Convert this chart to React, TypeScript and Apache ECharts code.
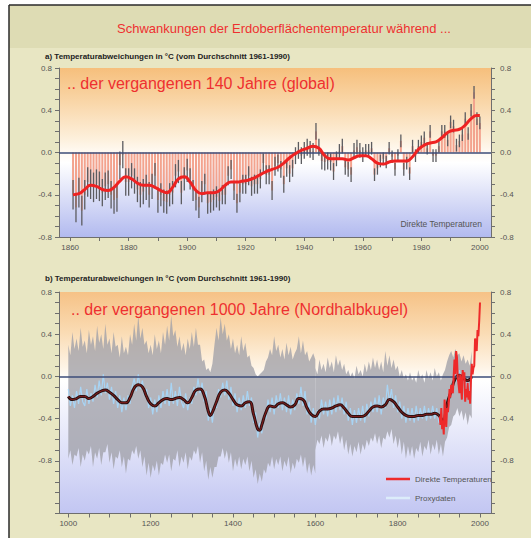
import React, { useEffect, useRef } from 'react';
import * as echarts from 'echarts';

const FONT = "'Liberation Sans', Arial, sans-serif";

const mainTitle = 'Schwankungen der Erdoberflächentemperatur während ...';
const panelATitle = 'a) Temperaturabweichungen in °C (vom Durchschnitt 1961-1990)';
const panelBTitle = 'b) Temperaturabweichungen in °C (vom Durchschnitt 1961-1990)';
const panelAHeadline = '.. der vergangenen 140 Jahre (global)';
const panelBHeadline = '.. der vergangenen 1000 Jahre (Nordhalbkugel)';
const panelANote = 'Direkte Temperaturen';
const legendNames = ['Direkte Temperaturen', 'Proxydaten'];

// Panel a: annual global anomalies 1861-2000
const globalStartYear = 1861;
const globalAnnual = [
  -0.40, -0.52, -0.38, -0.55, -0.40, -0.28, -0.30, -0.33, -0.30, -0.32,
  -0.38, -0.32, -0.30, -0.40, -0.45, -0.43, -0.12, -0.02, -0.28, -0.28,
  -0.22, -0.27, -0.35, -0.40, -0.37, -0.33, -0.40, -0.32, -0.22, -0.45,
  -0.40, -0.46, -0.47, -0.40, -0.38, -0.22, -0.18, -0.38, -0.25, -0.17,
  -0.25, -0.36, -0.45, -0.52, -0.37, -0.30, -0.48, -0.47, -0.45, -0.42,
  -0.46, -0.40, -0.40, -0.22, -0.16, -0.36, -0.48, -0.38, -0.30, -0.30,
  -0.22, -0.32, -0.30, -0.30, -0.25, -0.10, -0.21, -0.21, -0.36, -0.13,
  -0.10, -0.16, -0.30, -0.15, -0.20, -0.15, -0.03, 0.02, -0.03, 0.02,
  0.05, 0.03, 0.01, 0.20, 0.05, -0.08, -0.09, -0.08, -0.09, -0.18,
  -0.06, 0.01, 0.06, -0.14, -0.16, -0.21, 0.02, 0.05, 0.02, -0.02,
  0.02, 0.02, 0.04, -0.21, -0.15, -0.08, -0.06, -0.09, 0.04, -0.04,
  -0.16, -0.03, 0.11, -0.16, -0.10, -0.20, 0.06, -0.03, 0.06, 0.10,
  0.14, 0.04, 0.20, -0.03, -0.03, 0.06, 0.20, 0.20, 0.12, 0.29,
  0.25, 0.07, 0.11, 0.17, 0.32, 0.18, 0.40, 0.57, 0.32, 0.28,
];
// half-width of the grey uncertainty bar, one value per decade (1861-70, 1871-80, ...)
const globalErrorByDecade = [0.14, 0.13, 0.12, 0.11, 0.10, 0.09, 0.09, 0.08, 0.08, 0.07, 0.06, 0.06, 0.06, 0.06];

const globalSmoothYears = [
  1861, 1863, 1865, 1867, 1869, 1871, 1873, 1875, 1877, 1879, 1881, 1883, 1885, 1887, 1889,
  1891, 1893, 1895, 1897, 1899, 1901, 1903, 1905, 1907, 1909, 1911, 1913, 1915, 1917, 1919,
  1921, 1923, 1925, 1927, 1929, 1931, 1933, 1935, 1937, 1939, 1941, 1943, 1945, 1947, 1949,
  1951, 1953, 1955, 1957, 1959, 1961, 1963, 1965, 1967, 1969, 1971, 1973, 1975, 1977, 1979,
  1981, 1983, 1985, 1987, 1989, 1991, 1993, 1995, 1997, 1999, 2000,
];
const globalSmooth = [
  -0.40, -0.39, -0.35, -0.31, -0.32, -0.35, -0.36, -0.33, -0.27, -0.23, -0.25, -0.29, -0.31, -0.31, -0.33,
  -0.36, -0.38, -0.33, -0.25, -0.23, -0.28, -0.36, -0.39, -0.38, -0.38, -0.36, -0.31, -0.28, -0.28, -0.27,
  -0.26, -0.24, -0.21, -0.18, -0.16, -0.14, -0.10, -0.05, -0.01, 0.02, 0.04, 0.06, 0.04, -0.03, -0.06,
  -0.06, -0.06, -0.07, -0.05, -0.03, -0.03, -0.06, -0.10, -0.11, -0.09, -0.08, -0.08, -0.08, -0.04, 0.03,
  0.07, 0.09, 0.10, 0.14, 0.19, 0.21, 0.22, 0.26, 0.32, 0.35, 0.35,
];

// Panel b: proxy reconstruction, 5-year steps 1000-1980
const proxyStartYear = 1000;
const proxyStep = 5;
const proxyValues = [
  -0.12, -0.28, -0.18, -0.30, -0.14, -0.26, -0.10, -0.24, -0.28, -0.12,
  -0.26, -0.16, -0.24, -0.08, -0.20, -0.04, -0.18, 0.02, -0.16, -0.06,
  -0.22, -0.10, -0.26, -0.14, -0.30, -0.18, -0.34, -0.20, -0.32, -0.18,
  -0.26, -0.10, -0.02, -0.14, 0.02, -0.12, -0.04, -0.18, -0.12, -0.30,
  -0.20, -0.36, -0.22, -0.34, -0.18, -0.30, -0.14, -0.26, -0.12, -0.28,
  -0.06, -0.26, -0.14, -0.28, -0.10, -0.24, -0.30, -0.16, -0.32, -0.20,
  -0.26, -0.10, -0.18, -0.02, -0.16, -0.06, -0.24, -0.14, -0.42, -0.30,
  -0.44, -0.26, -0.30, -0.12, -0.20, -0.06, -0.18, -0.04, -0.22, -0.10,
  -0.28, -0.16, -0.34, -0.20, -0.32, -0.18, -0.30, -0.14, -0.28, -0.20,
  -0.44, -0.34, -0.58, -0.44, -0.54, -0.36, -0.40, -0.22, -0.34, -0.20,
  -0.36, -0.18, -0.30, -0.16, -0.32, -0.20, -0.34, -0.18, -0.36, -0.22,
  -0.32, -0.16, -0.26, -0.10, -0.28, -0.14, -0.36, -0.24, -0.44, -0.30,
  -0.46, -0.32, -0.40, -0.22, -0.36, -0.24, -0.38, -0.22, -0.36, -0.20,
  -0.34, -0.18, -0.32, -0.20, -0.36, -0.24, -0.42, -0.30, -0.46, -0.32,
  -0.44, -0.30, -0.42, -0.28, -0.44, -0.26, -0.38, -0.24, -0.34, -0.20,
  -0.34, -0.18, -0.36, -0.20, -0.30, -0.08, -0.24, -0.12, -0.30, -0.18,
  -0.34, -0.24, -0.40, -0.28, -0.44, -0.30, -0.42, -0.30, -0.44, -0.28,
  -0.42, -0.30, -0.40, -0.28, -0.42, -0.30, -0.40, -0.28, -0.40, -0.30,
  -0.44, -0.34, -0.50, -0.34, -0.30, -0.18, -0.18, -0.04, 0.04, -0.06,
  0.06, -0.08, 0.02, -0.12, -0.02, -0.14, 0.02,
];

// Panel b: 40-year smoothed reconstruction
const smoothYears = [
  1000, 1010, 1020, 1030, 1040, 1050, 1060, 1070, 1080, 1090, 1100, 1110, 1120, 1130, 1140, 1150,
  1160, 1170, 1180, 1190, 1200, 1210, 1220, 1230, 1240, 1250, 1260, 1270, 1280, 1290, 1300, 1310,
  1320, 1330, 1340, 1345, 1350, 1360, 1370, 1380, 1390, 1400, 1410, 1420, 1430, 1440, 1450, 1460,
  1465, 1470, 1480, 1490, 1500, 1510, 1520, 1530, 1540, 1550, 1560, 1570, 1580, 1590, 1600, 1610,
  1620, 1630, 1640, 1650, 1660, 1670, 1680, 1690, 1700, 1710, 1720, 1730, 1740, 1750, 1760, 1770,
  1780, 1790, 1800, 1810, 1820, 1830, 1840, 1850, 1860, 1870, 1880, 1890, 1900, 1910, 1920, 1930,
  1940, 1950, 1960, 1970, 1980,
];
const smoothValues = [
  -0.19, -0.22, -0.21, -0.19, -0.19, -0.21, -0.19, -0.16, -0.14, -0.13, -0.15, -0.18, -0.22, -0.25, -0.25, -0.20,
  -0.11, -0.08, -0.10, -0.19, -0.26, -0.28, -0.25, -0.22, -0.21, -0.22, -0.21, -0.20, -0.22, -0.25, -0.20, -0.13,
  -0.12, -0.18, -0.33, -0.37, -0.34, -0.24, -0.15, -0.13, -0.16, -0.22, -0.27, -0.28, -0.25, -0.24, -0.36, -0.50,
  -0.51, -0.46, -0.34, -0.28, -0.29, -0.26, -0.25, -0.27, -0.29, -0.27, -0.21, -0.22, -0.30, -0.36, -0.38, -0.33,
  -0.31, -0.31, -0.30, -0.28, -0.27, -0.30, -0.35, -0.38, -0.38, -0.38, -0.37, -0.33, -0.29, -0.28, -0.29, -0.27,
  -0.22, -0.24, -0.29, -0.34, -0.37, -0.38, -0.38, -0.37, -0.37, -0.36, -0.36, -0.35, -0.37, -0.42, -0.26, -0.14,
  -0.02, 0.01, -0.02, -0.04, 0.00,
];

// Panel b: grey uncertainty envelope, 5-year steps; early part 1000-1600, late part 1600-1980
const bandStep = 5;
const bandEarlyStart = 1000;
const bandEarlyUpper = [
  0.30, 0.20, 0.42, 0.26, 0.36, 0.24, 0.46, 0.28, 0.34, 0.22, 0.44, 0.30, 0.38, 0.24, 0.48, 0.32, 0.40, 0.26, 0.50, 0.30,
  0.36, 0.22, 0.42, 0.28, 0.30, 0.18, 0.38, 0.22, 0.28, 0.20, 0.40, 0.30, 0.50, 0.34, 0.58, 0.36, 0.46, 0.30, 0.34, 0.22,
  0.30, 0.20, 0.40, 0.26, 0.34, 0.22, 0.42, 0.30, 0.48, 0.34, 0.58, 0.38, 0.44, 0.28, 0.38, 0.24, 0.32, 0.20, 0.36, 0.26,
  0.42, 0.28, 0.46, 0.30, 0.30, 0.14, 0.16, 0.06, 0.08, 0.04, 0.12, 0.30, 0.46, 0.34, 0.56, 0.40, 0.50, 0.34, 0.40, 0.26,
  0.36, 0.22, 0.30, 0.20, 0.38, 0.24, 0.32, 0.18, 0.20, 0.10, 0.08, 0.02, 0.00, 0.02, 0.04, 0.06, 0.14, 0.18, 0.26, 0.20,
  0.38, 0.24, 0.30, 0.18, 0.26, 0.16, 0.32, 0.20, 0.28, 0.16, 0.22, 0.26, 0.38, 0.22, 0.34, 0.20, 0.24, 0.14, 0.18, 0.22,
  0.16,
];
const bandEarlyLower = [
  -0.78, -0.70, -0.84, -0.74, -0.76, -0.68, -0.86, -0.74, -0.80, -0.70, -0.74, -0.66, -0.86, -0.72, -0.78, -0.68, -0.84, -0.72, -0.72, -0.64,
  -0.82, -0.72, -0.88, -0.76, -0.78, -0.70, -0.86, -0.76, -0.92, -0.78, -0.80, -0.70, -0.74, -0.66, -0.78, -0.70, -0.86, -0.76, -0.94, -0.82,
  -0.96, -0.84, -0.90, -0.80, -0.94, -0.82, -0.84, -0.74, -0.82, -0.74, -0.90, -0.78, -0.80, -0.70, -0.86, -0.76, -0.82, -0.72, -0.88, -0.76,
  -0.80, -0.70, -0.74, -0.66, -0.82, -0.72, -0.90, -0.80, -0.98, -0.86, -0.96, -0.86, -0.86, -0.76, -0.76, -0.68, -0.78, -0.70, -0.82, -0.72,
  -0.90, -0.78, -0.86, -0.76, -0.88, -0.78, -0.84, -0.76, -0.90, -0.80, -0.96, -0.88, -1.02, -0.92, -1.00, -0.88, -0.92, -0.82, -0.86, -0.76,
  -0.88, -0.78, -0.84, -0.76, -0.90, -0.80, -0.86, -0.76, -0.92, -0.82, -0.88, -0.78, -0.82, -0.74, -0.86, -0.76, -0.92, -0.82, -0.94, -0.84,
  -0.92,
];
const bandLateStart = 1600;
const bandLateUpper = [
  0.08, 0.02, 0.16, 0.06, 0.12, 0.04, 0.18, 0.08, 0.14, 0.04, 0.20, 0.10, 0.16, 0.06, 0.12, 0.02, 0.06, 0.00, 0.04, -0.02,
  0.10, 0.02, 0.06, 0.00, 0.12, 0.04, 0.14, 0.06, 0.18, 0.08, 0.16, 0.06, 0.14, 0.04, 0.24, 0.10, 0.20, 0.08, 0.16, 0.06,
  0.10, 0.00, 0.06, -0.02, 0.02, -0.04, 0.04, -0.04, 0.00, -0.06, 0.06, -0.02, 0.02, -0.06, 0.06, -0.02, 0.04, -0.04, 0.08, 0.00,
  0.04, -0.04, 0.02, 0.06, 0.14, 0.20, 0.24, 0.18, 0.26, 0.20, 0.22, 0.14, 0.20, 0.12, 0.16, 0.10, 0.24,
];
const bandLateLower = [
  -0.70, -0.60, -0.64, -0.56, -0.68, -0.58, -0.62, -0.54, -0.66, -0.56, -0.60, -0.52, -0.64, -0.56, -0.70, -0.60, -0.74, -0.64, -0.76, -0.66,
  -0.72, -0.62, -0.74, -0.64, -0.70, -0.60, -0.66, -0.58, -0.62, -0.54, -0.64, -0.56, -0.68, -0.58, -0.60, -0.52, -0.58, -0.50, -0.64, -0.56,
  -0.68, -0.58, -0.74, -0.62, -0.78, -0.66, -0.76, -0.66, -0.78, -0.68, -0.72, -0.62, -0.76, -0.66, -0.70, -0.60, -0.74, -0.64, -0.70, -0.60,
  -0.74, -0.64, -0.76, -0.62, -0.58, -0.48, -0.46, -0.38, -0.36, -0.30, -0.38, -0.32, -0.42, -0.34, -0.46, -0.36, -0.40,
];

// Panel b: direct (instrumental) northern hemisphere temperatures, 2-year steps
const directYears = [
  1902, 1904, 1906, 1908, 1910, 1912, 1914, 1916, 1918, 1920, 1922, 1924, 1926, 1928, 1930, 1932, 1934,
  1936, 1938, 1940, 1942, 1944, 1946, 1948, 1950, 1952, 1954, 1956, 1958, 1960, 1962, 1964, 1966, 1968,
  1970, 1972, 1974, 1976, 1978, 1980, 1982, 1984, 1986, 1988, 1990, 1992, 1994, 1996, 1998, 2000,
];
const directValues = [
  -0.38, -0.46, -0.30, -0.50, -0.42, -0.55, -0.22, -0.38, -0.48, -0.30, -0.34, -0.26, -0.12, -0.20, -0.08, -0.12, -0.16,
  0.00, 0.16, 0.02, 0.24, 0.18, -0.02, -0.08, -0.16, 0.02, -0.10, -0.22, 0.06, -0.02, 0.04, -0.24, -0.12, -0.20,
  -0.06, -0.22, -0.14, -0.26, -0.04, 0.12, 0.02, 0.08, 0.10, 0.36, 0.30, 0.24, 0.44, 0.38, 0.52, 0.70,
];

// Axes
const yTicksA = [-0.8, -0.7, -0.6, -0.5, -0.4, -0.3, -0.2, -0.1, 0, 0.1, 0.2, 0.3, 0.4, 0.5, 0.6, 0.7, 0.8];
const yTicksB = [-1.3, -1.2, -1.1, -1.0, -0.9, -0.8, -0.7, -0.6, -0.5, -0.4, -0.3, -0.2, -0.1, 0, 0.1, 0.2, 0.3, 0.4, 0.5, 0.6, 0.7, 0.8];
const yLabels = [-0.8, -0.4, 0, 0.4, 0.8];
const xTicksA = [1860, 1870, 1880, 1890, 1900, 1910, 1920, 1930, 1940, 1950, 1960, 1970, 1980, 1990, 2000];
const xLabelsA = [1860, 1880, 1900, 1920, 1940, 1960, 1980, 2000];
const xTicksB = [1000, 1050, 1100, 1150, 1200, 1250, 1300, 1350, 1400, 1450, 1500, 1550, 1600, 1650, 1700, 1750, 1800, 1850, 1900, 1950, 2000];
const xLabelsB = [1000, 1200, 1400, 1600, 1800, 2000];

const axisColor = '#6e6e6e';
const labelStyle = { fontSize: 8, color: '#555', fontFamily: FONT };

function yAxis(grid: number, pos: 'left' | 'right', min: number, max: number, ticks: number[]) {
  return {
    type: 'value', gridIndex: grid, position: pos, min, max,
    axisLine: { show: true, lineStyle: { color: axisColor, width: 1 } },
    axisTick: { show: true, length: 4, customValues: ticks, lineStyle: { color: axisColor } },
    axisLabel: { ...labelStyle, margin: pos === 'left' ? 7 : 9, customValues: yLabels, formatter: (v: number) => v.toFixed(1) },
    splitLine: { show: false },
  };
}
function xAxis(grid: number, min: number, max: number, ticks: number[], labels: number[]) {
  return {
    type: 'value', gridIndex: grid, min, max,
    axisLine: { show: true, onZero: false, lineStyle: { color: axisColor, width: 1 } },
    axisTick: { show: true, length: 4, customValues: ticks, lineStyle: { color: axisColor } },
    axisLabel: { ...labelStyle, margin: 6, customValues: labels, formatter: (v: number) => String(v) },
    splitLine: { show: false },
  };
}

function bandSeries(name: string, start: number, upper: number[], lower: number[]) {
  return {
    name, type: 'custom', xAxisIndex: 1, yAxisIndex: 2, z: 2,
    data: [[start, upper[0]]], encode: { x: 0, y: 1 },
    renderItem: (_p: any, api: any) => {
      const up = upper.map((v, i) => api.coord([start + i * bandStep, v]));
      const lo = lower.map((v, i) => api.coord([start + i * bandStep, v])).reverse();
      return { type: 'polygon', shape: { points: up.concat(lo) }, style: { fill: 'rgba(160,160,168,0.78)' } };
    },
  };
}

export default function App() {
  const ref = useRef<HTMLDivElement>(null);
  useEffect(() => {
    if (!ref.current) return;
    const chart = echarts.init(ref.current, undefined, { renderer: 'svg' });

    const annual = globalAnnual.map((v, i) => [globalStartYear + i, v]);
    const errs = globalAnnual.map((v, i) => {
      const e = globalErrorByDecade[Math.floor(i / 10)];
      return [globalStartYear + i, v - e, v + e];
    });
    const smoothA = globalSmoothYears.map((y, i) => [y, globalSmooth[i]]);
    const proxy = proxyValues.map((v, i) => [proxyStartYear + i * proxyStep, v]);
    const smoothB = smoothYears.map((y, i) => [y, smoothValues[i]]);
    const direct = directYears.map((y, i) => [y, directValues[i]]);

    const zeroLine = {
      silent: true, symbol: 'none', label: { show: false },
      lineStyle: { color: '#3d4d78', width: 1.5, type: 'solid' },
      data: [{ yAxis: 0 }],
    };

    const option = {
      animation: false,
      backgroundColor: '#ffffff',
      textStyle: { fontFamily: FONT },
      graphic: [
        { type: 'rect', z: -10, shape: { x: 9, y: 5, width: 522, height: 533 }, style: { fill: '#e8e6c3' } },
        { type: 'rect', z: -10, shape: { x: 9, y: 5, width: 522, height: 43 }, style: { fill: '#dedcb4' } },
        { type: 'line', z: 10, shape: { x1: 9, y1: 5, x2: 531, y2: 5 }, style: { stroke: '#2a2a2a', lineWidth: 1.5 } },
        { type: 'line', z: 10, shape: { x1: 9, y1: 5, x2: 9, y2: 538 }, style: { stroke: '#2a2a2a', lineWidth: 1.5 } },
        { type: 'text', z: 10, style: { text: mainTitle, x: 284, y: 28, textAlign: 'center', verticalAlign: 'middle', fill: '#ee3030', font: `13px ${FONT}` } },
        { type: 'text', z: 10, style: { text: panelATitle, x: 45, y: 56, verticalAlign: 'middle', fill: '#222', font: `bold 8px ${FONT}` } },
        { type: 'text', z: 10, style: { text: panelBTitle, x: 45, y: 278, verticalAlign: 'middle', fill: '#222', font: `bold 8px ${FONT}` } },
        { type: 'text', z: 100, style: { text: panelAHeadline, x: 67, y: 83, verticalAlign: 'middle', fill: '#ee3030', font: `16px ${FONT}` } },
        { type: 'text', z: 100, style: { text: panelBHeadline, x: 71, y: 309, verticalAlign: 'middle', fill: '#ee3030', font: `16px ${FONT}` } },
        { type: 'text', z: 100, style: { text: panelANote, x: 482, y: 224, textAlign: 'right', verticalAlign: 'middle', fill: '#555', font: `8.5px ${FONT}` } },
      ],
      grid: [
        {
          left: 59, top: 68, width: 432, height: 169, show: true, borderWidth: 0,
          backgroundColor: {
            type: 'linear', x: 0, y: 0, x2: 0, y2: 1,
            colorStops: [
              { offset: 0, color: '#f6bf7c' },
              { offset: 0.2, color: '#f9d6a8' },
              { offset: 0.42, color: '#fdf0dc' },
              { offset: 0.5, color: '#fffaf3' },
              { offset: 0.56, color: '#ffffff' },
              { offset: 1, color: '#b2baef' },
            ],
          },
        },
        {
          left: 59, top: 292, width: 432, height: 221.5, show: true, borderWidth: 0,
          backgroundColor: {
            type: 'linear', x: 0, y: 0, x2: 0, y2: 1,
            colorStops: [
              { offset: 0, color: '#f6c286' },
              { offset: 0.18, color: '#fadbb3' },
              { offset: 0.34, color: '#fef4e6' },
              { offset: 0.4, color: '#ffffff' },
              { offset: 1, color: '#c2c6f2' },
            ],
          },
        },
      ],
      xAxis: [
        xAxis(0, 1856.2, 2003.8, xTicksA, xLabelsA),
        xAxis(1, 977.4, 2026.7, xTicksB, xLabelsB),
      ],
      yAxis: [
        yAxis(0, 'left', -0.8, 0.8, yTicksA),
        yAxis(0, 'right', -0.8, 0.8, yTicksA),
        yAxis(1, 'left', -1.3, 0.8, yTicksB),
        yAxis(1, 'right', -1.3, 0.8, yTicksB),
      ],
      legend: {
        data: legendNames, orient: 'vertical', left: 381, top: 470,
        itemWidth: 24, itemHeight: 2.5, icon: 'rect', itemGap: 11, selectedMode: false,
        textStyle: { fontSize: 8, color: '#555', fontFamily: FONT },
      },
      series: [
        {
          name: 'Jahreswerte (global)', type: 'bar', xAxisIndex: 0, yAxisIndex: 0,
          data: annual, barWidth: 2, itemStyle: { color: '#f3a38e' }, z: 2,
        },
        {
          name: 'Unsicherheit (global)', type: 'custom', xAxisIndex: 0, yAxisIndex: 0, z: 3,
          data: errs, encode: { x: 0, y: [1, 2] },
          renderItem: (_p: any, api: any) => {
            const a = api.coord([api.value(0), api.value(1)]);
            const b = api.coord([api.value(0), api.value(2)]);
            return { type: 'line', shape: { x1: a[0], y1: a[1], x2: b[0], y2: b[1] }, style: { stroke: '#5c5c60', lineWidth: 1.3 } };
          },
        },
        {
          name: 'Gleitendes Mittel (global)', type: 'line', xAxisIndex: 0, yAxisIndex: 0, z: 5,
          data: smoothA, smooth: 0.5, showSymbol: false, symbol: 'none',
          lineStyle: { color: '#ee2222', width: 3 }, itemStyle: { color: '#ee2222' },
          markLine: zeroLine,
        },
        bandSeries('Unsicherheitsbereich bis 1600', bandEarlyStart, bandEarlyUpper, bandEarlyLower),
        bandSeries('Unsicherheitsbereich ab 1600', bandLateStart, bandLateUpper, bandLateLower),
        {
          name: 'Proxydaten', type: 'line', xAxisIndex: 1, yAxisIndex: 2, z: 3,
          data: proxy, showSymbol: false, symbol: 'none',
          lineStyle: { color: '#a8d4f4', width: 1.2 }, itemStyle: { color: '#dcecfa' },
        },
        {
          name: 'Gleitendes Mittel (Nordhalbkugel)', type: 'line', xAxisIndex: 1, yAxisIndex: 2, z: 4,
          data: smoothB, smooth: 0.5, showSymbol: false, symbol: 'none',
          lineStyle: { color: '#2a1212', width: 3 },
        },
        {
          name: 'Mittel Kern', type: 'line', xAxisIndex: 1, yAxisIndex: 2, z: 4,
          data: smoothB, smooth: 0.5, showSymbol: false, symbol: 'none',
          lineStyle: { color: '#a82222', width: 0.8 },
        },
        {
          name: 'Direkte Temperaturen', type: 'line', xAxisIndex: 1, yAxisIndex: 2, z: 5,
          data: direct, showSymbol: false, symbol: 'none',
          lineStyle: { color: '#ee2a2a', width: 2 }, itemStyle: { color: '#ee2a2a' },
          markLine: zeroLine,
        },
      ],
    };
    chart.setOption(option as any);
    return () => chart.dispose();
  }, []);
  return <div ref={ref} style={{ position: 'fixed', left: 0, top: 0, width: 531, height: 538 }} />;
}
